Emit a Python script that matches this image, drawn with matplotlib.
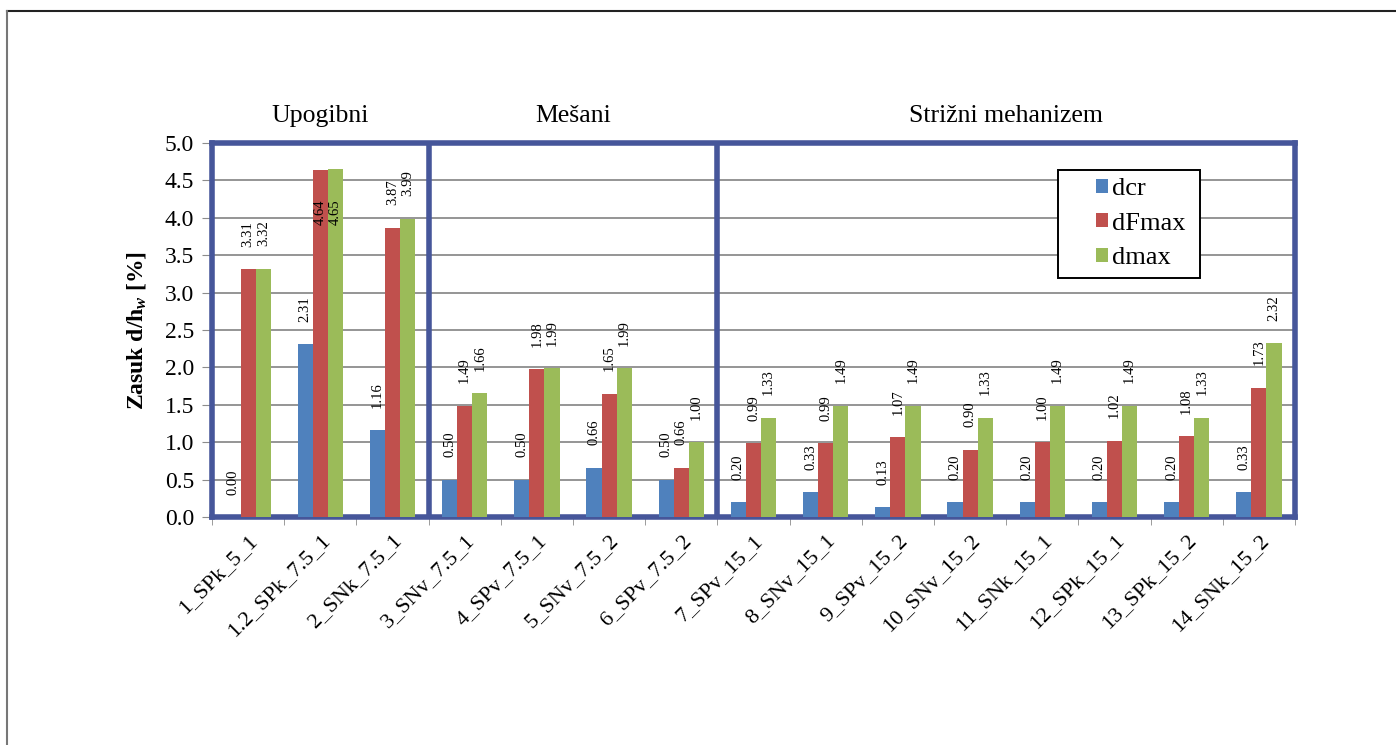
import matplotlib
matplotlib.use('Agg')
import matplotlib.pyplot as plt
import numpy as np
from matplotlib.lines import Line2D
from matplotlib.patches import Rectangle
from matplotlib.transforms import blended_transform_factory

plt.rcParams['font.family'] = ['Liberation Serif', 'DejaVu Serif']
plt.rcParams['mathtext.fontset'] = 'custom'
plt.rcParams['mathtext.rm'] = 'Liberation Serif:bold'
plt.rcParams['mathtext.it'] = 'Liberation Serif:italic:bold'

# data
categories = ['1_SPk_5_1', '1.2_SPk_7.5_1', '2_SNk_7.5_1', '3_SNv_7.5_1', '4_SPv_7.5_1',
              '5_SNv_7.5_2', '6_SPv_7.5_2', '7_SPv_15_1', '8_SNv_15_1', '9_SPv_15_2',
              '10_SNv_15_2', '11_SNk_15_1', '12_SPk_15_1', '13_SPk_15_2', '14_SNk_15_2']
dcr = [0.00, 2.31, 1.16, 0.50, 0.50, 0.66, 0.50, 0.20, 0.33, 0.13, 0.20, 0.20, 0.20, 0.20, 0.33]
dFmax = [3.31, 4.64, 3.87, 1.49, 1.98, 1.65, 0.66, 0.99, 0.99, 1.07, 0.90, 1.00, 1.02, 1.08, 1.73]
dmax = [3.32, 4.65, 3.99, 1.66, 1.99, 1.99, 1.00, 1.33, 1.49, 1.49, 1.33, 1.49, 1.49, 1.33, 2.32]
series_names = ['dcr', 'dFmax', 'dmax']
group_titles = ['Upogibni', 'Mešani', 'Strižni mehanizem']
group_sizes = [3, 4, 8]

colors = ['#4F81BD', '#C0504D', '#9BBB59']
frame_col = '#46569A'

fig = plt.figure(figsize=(13.96, 7.45), dpi=100)
ax = fig.add_axes([212 / 1396, 1 - 517 / 745, (1295 - 212) / 1396, (517 - 143) / 745])

x = np.arange(len(categories))
w = 0.21
all_series = [dcr, dFmax, dmax]
for i, (vals, name) in enumerate(zip(all_series, series_names)):
    pos = x + (i - 1) * w
    ax.bar(pos, vals, width=w, color=colors[i], label=name, zorder=3)
    for px, v in zip(pos, vals):
        if v > 4.2:
            ax.text(px, 3.9, f'{v:.2f}', rotation=90, ha='center', va='bottom',
                    fontsize=10.5, zorder=5)
        else:
            ax.annotate(f'{v:.2f}', (px, v), xytext=(0, 16), textcoords='offset points',
                        rotation=90, ha='center', va='bottom', fontsize=10.5, zorder=5)

ax.set_xlim(-0.5, len(categories) - 0.5)
ax.set_ylim(0, 5.0)
ax.set_yticks(np.arange(0, 5.01, 0.5))
ax.set_yticklabels([f'{t:.1f}' for t in np.arange(0, 5.01, 0.5)], fontsize=17)
ax.yaxis.grid(True, color='#8C8C8C', linewidth=1.3, zorder=0)
ax.set_axisbelow(True)

ax.set_xticks(x)
ax.set_xticklabels(categories, rotation=45, ha='right', rotation_mode='anchor', fontsize=16)
ax.set_xticks(np.arange(-0.5, len(categories), 1), minor=True)
ax.tick_params(axis='x', which='major', length=0, pad=10)
ax.tick_params(axis='x', which='minor', length=6, color='#8C8C8C')
ax.tick_params(axis='y', length=7, color='#8C8C8C', pad=6)

for sp in ax.spines.values():
    sp.set_color(frame_col)
    sp.set_linewidth(4)

# dividers between groups and titles above them
trans = blended_transform_factory(ax.transData, ax.transAxes)
start = 0
for k, (title, n) in enumerate(zip(group_titles, group_sizes)):
    end = start + n
    if k < len(group_sizes) - 1:
        ax.axvline(end - 0.5, color=frame_col, linewidth=4, zorder=4)
    ax.text((start + end - 1) / 2, 1.072, title, transform=trans, ha='center', va='center',
            fontsize=18.5)
    start = end

ax.set_ylabel(r'Zasuk d/h$_{w}$ [%]', fontsize=17, fontweight='bold', labelpad=12)

# legend: box drawn separately, entries sit to the right inside it (Excel style)
ax_w, ax_h = 1083, 374
box = Rectangle(((1058 - 212) / ax_w, (517 - 278) / ax_h), 142 / ax_w, 108 / ax_h,
                transform=ax.transAxes, facecolor='white', edgecolor='black',
                linewidth=1.4, zorder=6)
ax.add_patch(box)
leg = ax.legend(loc='upper left', bbox_to_anchor=((1096 - 212) / ax_w, (517 - 178) / ax_h),
                frameon=False, fontsize=19, handlelength=0.45, handleheight=0.45,
                handletextpad=0.15, borderpad=0, labelspacing=0.48, borderaxespad=0)
leg.set_zorder(7)

# thin border around the picture (top and left only)
fig.add_artist(Line2D([7 / 1396, 1], [1 - 11 / 745, 1 - 11 / 745], color='#222222', linewidth=1.5))
fig.add_artist(Line2D([7 / 1396, 7 / 1396], [0, 1 - 11 / 745], color='#777777', linewidth=1.5))

fig.savefig('out.png', dpi=100, facecolor='white')
